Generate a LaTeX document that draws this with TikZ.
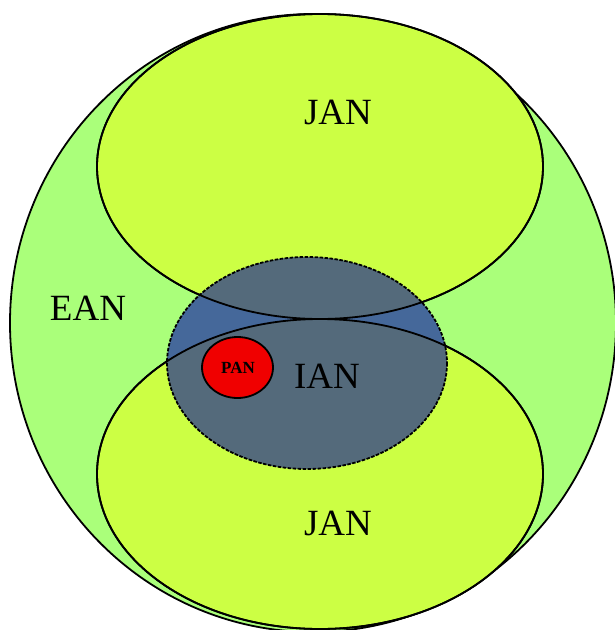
\documentclass[tikz,border=0pt]{standalone}
\usepackage{fontspec}
\setmainfont{Liberation Serif}
\definecolor{eangreen}{HTML}{AAFF7A}
\definecolor{jangreen}{HTML}{CCFF44}
\definecolor{ianslate}{HTML}{546A7B}
\definecolor{ianblue}{HTML}{45689A}
\definecolor{panred}{HTML}{F00000}
\begin{document}
\begin{tikzpicture}[x=1pt,y=-1pt,
  outline/.style={draw=black,line width=1.8pt},
  lbl/.style={font=\fontsize{37}{37}\selectfont,inner sep=0pt},
  smalllbl/.style={font=\fontsize{17}{17}\selectfont\bfseries,inner sep=0pt}]
\useasboundingbox (0,0) rectangle (615,630);
% EAN
\path[fill=eangreen,outline] (313,323) ellipse [x radius=303,y radius=309];
% JAN top and bottom
\path[fill=jangreen,outline] (320,166.5) ellipse [x radius=223,y radius=152.5];
\path[fill=jangreen,outline] (320,474) ellipse [x radius=223,y radius=155];
% IAN
\begin{scope}
  \clip (307,363) ellipse [x radius=140,y radius=106];
  \fill[ianblue] (307,363) ellipse [x radius=140,y radius=106];
  \fill[ianslate] (320,166.5) ellipse [x radius=223,y radius=152.5];
  \fill[ianslate] (320,474) ellipse [x radius=223,y radius=155];
\end{scope}
\draw[outline] (320,166.5) ellipse [x radius=223,y radius=152.5];
\draw[outline] (320,474) ellipse [x radius=223,y radius=155];
\draw[line width=1.8pt,dash pattern=on 3.5pt off 1.5pt] (307,363) ellipse [x radius=140,y radius=106];
% PAN
\path[fill=panred,outline] (237.5,367.5) ellipse [x radius=35.5,y radius=30.5];
% labels
\node[lbl] (ean) at (88,308) {EAN};
\node[lbl] (jantop) at (338,112) {JAN};
\node[lbl] (janbot) at (338,523) {JAN};
\node[lbl] (ian) at (327,376) {IAN};
\node[smalllbl] (pan) at (238,368) {PAN};
\end{tikzpicture}
\end{document}
